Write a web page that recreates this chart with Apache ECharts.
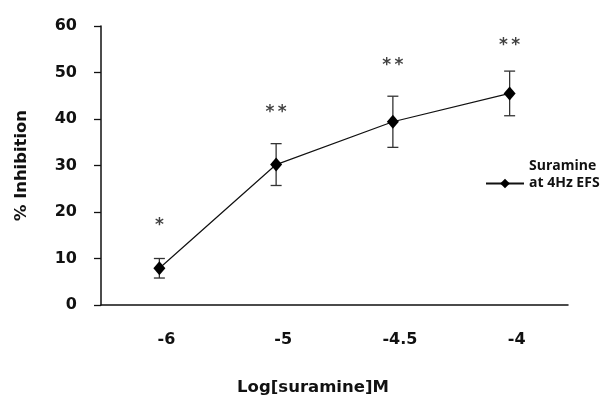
<!DOCTYPE html>
<html>
<head>
<meta charset="utf-8">
<script src="https://cdn.jsdelivr.net/npm/echarts@6/dist/echarts.min.js"></script>
<style>html,body{margin:0;padding:0;background:#fff}#c{width:603px;height:401px}</style>
</head>
<body>
<div id="c"></div>
<script>
const categories = ['-6', '-5', '-4.5', '-4'];
const meanValues = [7.9, 30.2, 39.4, 45.5];
const errValues = [2.1, 4.5, 5.5, 4.8];
const sigMarks = ['*', '**', '**', '**'];
const sigLevels = [18, 42.4, 52.4, 56.8];
const yTicks = [0, 10, 20, 30, 40, 50, 60];
const seriesName = 'Suramine\nat 4Hz EFS';

const FONT = '"DejaVu Sans", "Open Sans", sans-serif';
const LFONT = '"Open Sans", "Noto Sans", sans-serif';
const chart = echarts.init(document.getElementById('c'), null, {renderer: 'canvas'});

const errData = categories.map((c, i) => [i, meanValues[i] - errValues[i], meanValues[i] + errValues[i]]);

chart.setOption({
  animation: false,
  backgroundColor: '#fff',
  grid: {left: 101, top: 26, right: 35, bottom: 95, containLabel: false},
  legend: {
    data: [{name: seriesName}],
    left: 485, top: 158, padding: 0,
    itemWidth: 38, itemHeight: 12, itemGap: 2,
    selectedMode: false,
    formatter: name => name + '\n\u00a0',
    textStyle: {fontFamily: LFONT, fontWeight: 'bold', fontSize: 14, color: '#111', lineHeight: 17}
  },
  xAxis: {
    type: 'category',
    data: categories,
    boundaryGap: true,
    axisLine: {lineStyle: {color: '#111', width: 1.5}},
    axisTick: {alignWithLabel: true, inside: true, length: 7, lineStyle: {color: '#111', width: 1.3}},
    axisLabel: {fontFamily: FONT, fontWeight: 'bold', fontSize: 16, color: '#111', margin: 27, padding: [0, 0, 0, 14]},
    splitLine: {show: false},
    name: 'Log[suramine]M',
    nameLocation: 'middle',
    nameGap: 74,
    nameTextStyle: {fontFamily: FONT, fontWeight: 'bold', fontSize: 16.5, color: '#111', padding: [0, 43, 0, 0]}
  },
  yAxis: {
    type: 'value',
    min: yTicks[0], max: yTicks[yTicks.length - 1], interval: 10,
    axisLine: {show: true, lineStyle: {color: '#111', width: 1.5}},
    axisTick: {show: true, length: 7, lineStyle: {color: '#111', width: 1.3}},
    axisLabel: {fontFamily: FONT, fontWeight: 'bold', fontSize: 16, color: '#111', margin: 24},
    splitLine: {show: false},
    name: '% Inhibition',
    nameLocation: 'middle',
    nameRotate: 90,
    nameGap: 71,
    nameTextStyle: {fontFamily: FONT, fontWeight: 'bold', fontSize: 16.4, color: '#111'}
  },
  series: [
    {
      type: 'custom',
      name: 'err',
      data: errData,
      z: 2,
      renderItem: function (params, api) {
        const x = api.value(0);
        const lo = api.coord([x, api.value(1)]);
        const hi = api.coord([x, api.value(2)]);
        const w = 5.5;
        const st = {stroke: '#333', lineWidth: 1.3};
        return {
          type: 'group',
          children: [
            {type: 'line', shape: {x1: lo[0], y1: lo[1], x2: hi[0], y2: hi[1]}, style: st},
            {type: 'line', shape: {x1: lo[0] - w, y1: lo[1], x2: lo[0] + w, y2: lo[1]}, style: st},
            {type: 'line', shape: {x1: hi[0] - w, y1: hi[1], x2: hi[0] + w, y2: hi[1]}, style: st}
          ]
        };
      }
    },
    {
      type: 'line',
      name: seriesName,
      data: meanValues,
      z: 3,
      symbol: 'diamond',
      symbolSize: [12, 14],
      itemStyle: {color: '#000'},
      lineStyle: {color: '#111', width: 1.2}
    },
    {
      type: 'scatter',
      name: 'sig',
      data: sigLevels.map((v, i) => [i, v]),
      symbolSize: 0,
      z: 4,
      label: {
        show: true,
        position: 'inside',
        offset: [0, 4.5],
        formatter: p => sigMarks[p.dataIndex].split('').join('\u2009'),
        fontFamily: '"DejaVu Sans", sans-serif',
        fontWeight: 'bold',
        fontSize: 17,
        color: '#111'
      }
    }
  ]
});
</script>
</body>
</html>
